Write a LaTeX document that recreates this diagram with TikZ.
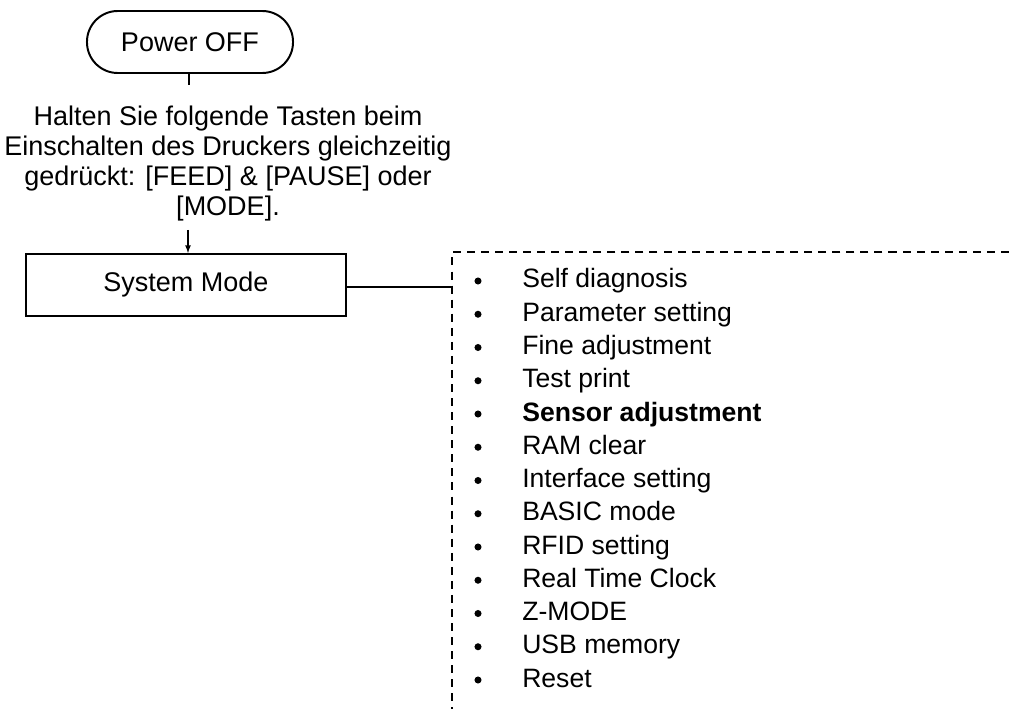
\documentclass[tikz,border=0pt]{standalone}
\usepackage{fontspec}
\setmainfont{Liberation Sans}
\tikzset{
  flowbox/.style={draw, line width=1.4pt, inner sep=0pt},
  thinline/.style={line width=0.9pt},
  listframe/.style={line width=1pt, dash pattern=on 5.7pt off 4.3pt},
  dot/.style={circle, fill, inner sep=0pt, minimum size=5pt}
}
\begin{document}
\begin{tikzpicture}[x=0.025cm,y=-0.025cm]
			\useasboundingbox (0,0) rectangle (1009,709);
			\node[flowbox, rounded corners=0.77cm, minimum width=5.15cm, minimum height=1.55cm,
			      font=\fontsize{19.2}{21.3}\selectfont] (poweroff) at (190,42) {Power OFF};
			\node[anchor=north, inner sep=0pt, align=center,
			      font=\fontsize{19.2}{21.3}\selectfont] (hint) at (228,106)
			      {Halten Sie folgende Tasten beim\\Einschalten des Druckers gleichzeitig\\gedrückt: [FEED] \& [PAUSE] oder\\{}[MODE].};
			\node[flowbox, minimum width=8cm, minimum height=1.55cm,
			      font=\fontsize{19.2}{21.3}\selectfont] (sysmode) at (186,285) {System Mode};
			\coordinate (hinttop) at (189,85);
			\coordinate (hintbot) at (188,230);
			\coordinate (listleft) at (452,287);
			\draw[thinline] (poweroff.south -| hinttop) -- (hinttop);
			\draw[thinline, -latex] (hintbot) -- (sysmode.north -| hintbot);
			\draw[thinline] (sysmode.east |- listleft) -- (listleft);
			% dashed frame of the mode list
			\draw[listframe] (1009,252) -- (452,252) -- (452,709);
			\foreach \txt [count=\i] in {Self diagnosis, Parameter setting, Fine adjustment,
			    Test print, \textbf{Sensor adjustment}, RAM clear, Interface setting,
			    BASIC mode, RFID setting, Real Time Clock, Z-MODE, USB memory, Reset}
			{
			  \node[dot] (bul\i) at (478,{281+(\i-1)*33.25}) {};
			  \node[anchor=base west, inner sep=0pt, font=\fontsize{18.9}{21}\selectfont]
			      (item\i) at (522,{288+(\i-1)*33.25}) {\txt};
			}
		\end{tikzpicture}
\end{document}
